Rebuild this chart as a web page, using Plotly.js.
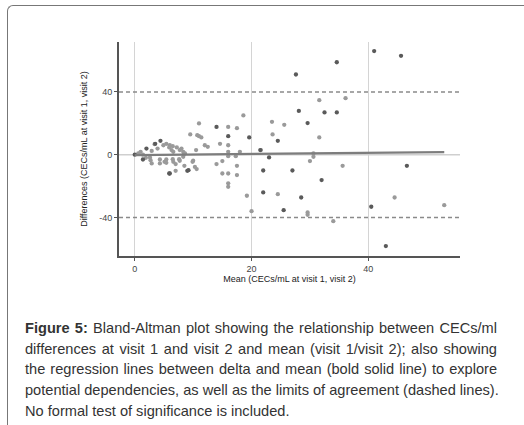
<!DOCTYPE html>
<html>
<head>
<meta charset="utf-8">
<script src="https://cdn.plot.ly/plotly-3.0.1.min.js"></script>
<style>
  html, body { margin: 0; padding: 0; background: #fff; width: 524px; height: 425px; overflow: hidden; }
  #frame { position: absolute; left: 7px; top: 5px; width: 620px; height: 520px;
           border-top: 1.5px solid #777; border-left: 1.5px solid #777; border-top-left-radius: 6px; }
  #chart { position: absolute; left: 0; top: 0; width: 524px; height: 425px; }
  #caption { position: absolute; left: 25px; top: 318px; width: 472px;
             font-family: "Liberation Sans", Arial, sans-serif; font-size: 14.6px; line-height: 20.7px;
             color: #333; }
  #caption .ln { display: block; white-space: nowrap; text-align: justify; text-align-last: justify; }
  #caption .ln.last { text-align-last: left; }
</style>
</head>
<body>
<div id="frame"></div>
<div id="chart"></div>
<div id="caption"><span class="ln"><b>Figure 5:</b> Bland-Altman plot showing the relationship between CECs/ml</span><span class="ln">differences at visit 1 and visit 2 and mean (visit 1/visit 2); also showing</span><span class="ln">the regression lines between delta and mean (bold solid line) to explore</span><span class="ln">potential dependencies, as well as the limits of agreement (dashed lines).</span><span class="ln last">No formal test of significance is included.</span></div>
<script>
// Dark points: mean (x) and difference (y)
const darkMean = [27.6, 28.1, 14, 16, 19.6, 4.4, 3.5, 41, 45.6, 34.6, 32.5, 34.6, 29.6, 24.5, 21.5, 23, 22, 27, 46.6, 32, 22, 28.5, 25.5, 40.5, 43, 1.4, 6, 5.9, 9, 2, 0, 9.2];
const darkDiff = [51.1, 27.9, 17.7, 11.8, 11, 8.8, 6.9, 66, 63, 58.9, 26.9, 26.9, 20.1, 8.8, 2.9, -1.8, -10.1, -10.1, -7.1, -16.2, -24.1, -27.3, -35.4, -33.2, -58.3, -3.1, -12, -12, -10.3, 3.9, 0, -9.9];
// Light points
const lightMean = [18.6, 11, 16, 17.5, 9.5, 11, 11.4, 23.5, 23.6, 25.6, 14.6, 16, 12, 12.5, 10.5, 3.9, 7.2, 8, 2.9, 5.4, 6, 6.5, 1.9, 18, 16, 8.4, 31.6, 36.1, 31.6, 30.6, 30.6, 30, 35.6, 24.5, 44.5, 53, 20, 29.6, 29.6, 34, 2.6, 2.7, 2.9, 4.3, 4.3, 5.4, 5.4, 6.5, 7, 7, 7.6, 8.5, 10, 10.6, 14, 15, 16, 16, 17.5, 17.5, 19.2, 17.3, 0.6, 1, 1.4, 3.4, 4.9, 5.9, 6.3, 6.6, 7.7, 8.3, 8.6, 5.1, 6.6, 7.7, 9.9, 10.3, 10.7, 16, 15, 16, 21.6, 8.3];
const lightDiff = [25, 19.9, 17.7, 16.9, 12.9, 11.8, 11, 20.9, 12.9, 19, 6.9, 6, 6, 5, 2.9, 3.9, 4.6, 3.9, 2.4, 6.9, 6, 5.4, -2, 1.8, 1.8, 0.3, 34.7, 36, 11, 0.8, -1.4, -4.1, -7.1, -25.2, -27.3, -32.2, -36, -36.8, -38.3, -42.4, -1.8, -3.5, -5.6, -3.1, -5.6, -3.1, -5.2, -2.9, -6, -10.3, -2.9, -7.1, -3.9, -9.2, -6, -4.1, -18.3, -20.5, -7.1, -13, -26.2, -1, 0.8, 1.8, 0, 6.7, 6, 4.6, 2.9, 1.8, 2.9, 1.8, 0.8, -4.6, -4.6, -3.9, -4.6, -7.8, 12.4, -1, -12, -12, 2.9, -1.4];
// Regression line endpoints (mean, predicted difference)
const regMean = [0, 53];
const regDiff = [-0.3, 1.6];
// Limits of agreement
const loaUpper = 40;
const loaLower = -40;
const xRange = [-2.7, 55.7];
const yRange = [-64.6, 71.8];
const xTicks = [0, 20, 40];
const yTicks = [-40, 0, 40];

const traces = [
  { x: xRange, y: [0, 0], mode: 'lines', line: { color: '#cfcfcf', width: 1.5 }, hoverinfo: 'skip' },
  { x: xRange, y: [loaUpper, loaUpper], mode: 'lines', line: { color: '#8a8a8a', width: 1.5, dash: '4px,3px' } },
  { x: xRange, y: [loaLower, loaLower], mode: 'lines', line: { color: '#8a8a8a', width: 1.5, dash: '4px,3px' } },
  { x: lightMean, y: lightDiff, mode: 'markers', marker: { color: '#9a9a9a', size: 4.3 } },
  { x: darkMean, y: darkDiff, mode: 'markers', marker: { color: '#5a5a5a', size: 4.3 } },
  { x: regMean, y: regDiff, mode: 'lines', line: { color: '#7d7d7d', width: 2.2 } }
];

const axisFont = { family: 'Liberation Sans, Arial, sans-serif', size: 9, color: '#444' };
const layout = {
  width: 524, height: 425,
  margin: { l: 119, r: 64, t: 42, b: 169 },
  paper_bgcolor: 'rgba(0,0,0,0)', plot_bgcolor: 'rgba(0,0,0,0)',
  showlegend: false,
  xaxis: {
    range: xRange, tickvals: xTicks, ticktext: xTicks.map(String),
    showgrid: true, gridcolor: '#d4d4d4', gridwidth: 1, zeroline: false,
    showline: true, linecolor: '#555', linewidth: 2,
    ticks: 'outside', ticklen: 3, tickcolor: '#555', tickfont: axisFont,
    title: { text: 'Mean (CECs/mL at visit 1, visit 2)', font: { family: 'Liberation Sans, Arial, sans-serif', size: 9, color: '#222' }, standoff: 3 },
    automargin: false
  },
  yaxis: {
    range: yRange, tickvals: yTicks, ticktext: yTicks.map(String),
    showgrid: false, zeroline: false,
    showline: true, linecolor: '#555', linewidth: 2,
    ticks: 'outside', ticklen: 3, tickcolor: '#555', tickfont: axisFont,
    title: { text: 'Differences (CECs/mL at visit 1, visit 2)', font: { family: 'Liberation Sans, Arial, sans-serif', size: 9, color: '#222' }, standoff: 10 },
    automargin: false
  }
};
Plotly.newPlot('chart', traces, layout, { staticPlot: true, displayModeBar: false });
</script>
</body>
</html>
